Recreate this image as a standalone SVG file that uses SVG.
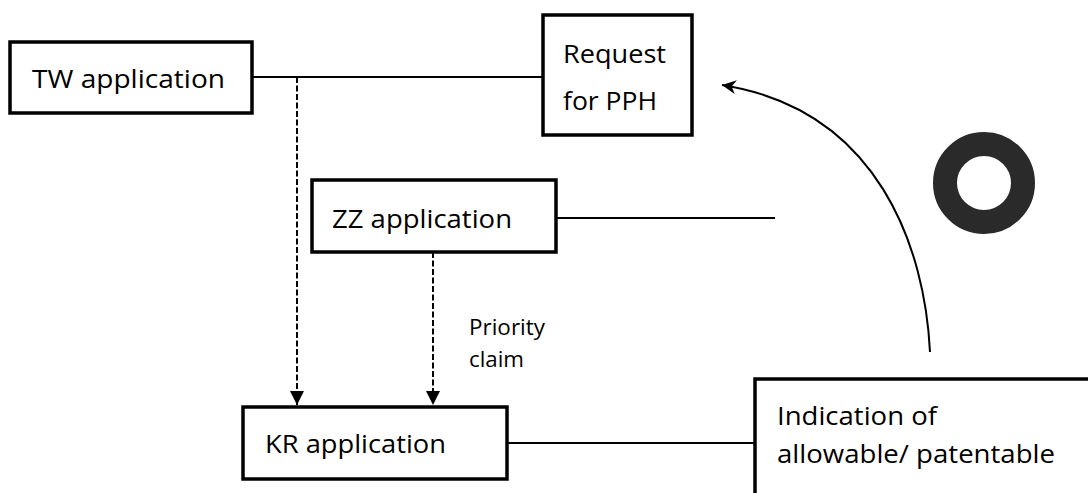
<svg xmlns="http://www.w3.org/2000/svg" width="1088" height="493" viewBox="0 0 1088 493">
<defs>
<style>
.box{fill:#fff;stroke:#000;stroke-width:3.5}
.t{font-family:"Open Sans","Liberation Sans",sans-serif;font-size:26px;fill:#000}
.s{font-family:"Open Sans","Liberation Sans",sans-serif;font-size:21px;fill:#000}
.ln{fill:none;stroke:#000;stroke-width:2}
.dash{fill:none;stroke:#000;stroke-width:2;stroke-dasharray:6 2.5}
</style>
<marker id="tri" viewBox="0 0 10 10" refX="10" refY="5" markerWidth="15" markerHeight="14" markerUnits="userSpaceOnUse" orient="auto">
<path d="M0,0 L10,5 L0,10 Z" fill="#000"/>
</marker>
<marker id="curveHead" viewBox="0 0 10 10" refX="10" refY="5" markerWidth="16" markerHeight="14" markerUnits="userSpaceOnUse" orient="auto">
<path d="M0,0 L10,5 L0,10 L3,5 Z" fill="#000"/>
</marker>
</defs>
<rect width="1088" height="493" fill="#fff"/>
<g id="connectors">
<line class="ln" x1="252" y1="77" x2="543" y2="77"/>
<line class="ln" x1="556" y1="218" x2="775" y2="218"/>
<line class="ln" x1="507" y1="443" x2="755" y2="443"/>
<line class="dash" x1="297" y1="77" x2="297" y2="405" marker-end="url(#tri)"/>
<line class="dash" x1="433" y1="252" x2="433" y2="405" marker-end="url(#tri)"/>
<path class="ln" d="M930,352 C925,250 880,110 722,85" marker-end="url(#curveHead)"/>
<text class="s" x="469" y="335" textLength="76" lengthAdjust="spacingAndGlyphs">Priority</text>
<text class="s" x="469" y="367" textLength="55" lengthAdjust="spacingAndGlyphs">claim</text>
</g>
<g id="tw">
<rect class="box" x="10" y="42" width="242" height="71"/>
<text class="t" x="32" y="88" textLength="193" lengthAdjust="spacingAndGlyphs">TW application</text>
</g>
<g id="request">
<rect class="box" x="543" y="15" width="149" height="120"/>
<text class="t" x="563" y="63" textLength="103" lengthAdjust="spacingAndGlyphs">Request</text>
<text class="t" x="563" y="110" textLength="94" lengthAdjust="spacingAndGlyphs">for PPH</text>
</g>
<g id="zz">
<rect class="box" x="312" y="180" width="244" height="72"/>
<text class="t" x="332" y="228" textLength="180" lengthAdjust="spacingAndGlyphs">ZZ application</text>
</g>
<g id="kr">
<rect class="box" x="243" y="407" width="264" height="72"/>
<text class="t" x="265" y="453" textLength="181" lengthAdjust="spacingAndGlyphs">KR application</text>
</g>
<g id="indication">
<rect class="box" x="755" y="379" width="345" height="130"/>
<text class="t" x="777" y="425" textLength="160" lengthAdjust="spacingAndGlyphs">Indication of</text>
<text class="t" x="777" y="463" textLength="278" lengthAdjust="spacingAndGlyphs">allowable/ patentable</text>
</g>
<g id="ring">
<circle cx="984" cy="183" r="39" fill="none" stroke="#2a2a2a" stroke-width="24"/>
</g>
</svg>
